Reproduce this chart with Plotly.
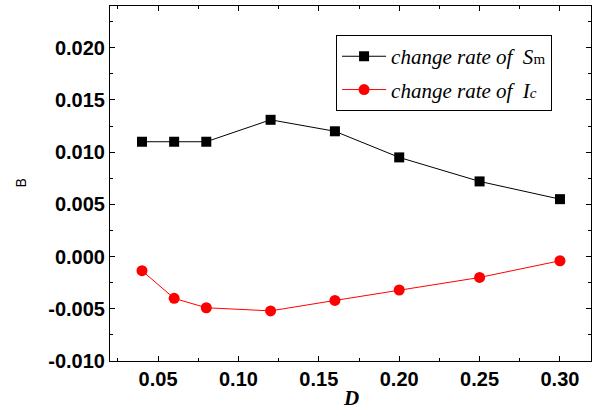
import plotly.graph_objects as go

D = [0.04, 0.06, 0.08, 0.12, 0.16, 0.20, 0.25, 0.30]
rate_Sm = [0.0110, 0.0110, 0.0110, 0.0131, 0.0120, 0.0095, 0.0072, 0.0055]
rate_Ic = [-0.00135, -0.0040, -0.0049, -0.0052, -0.0042, -0.0032, -0.0020, -0.0004]
x_ticks = [0.05, 0.10, 0.15, 0.20, 0.25, 0.30]
x_tick_labels = ["0.05", "0.10", "0.15", "0.20", "0.25", "0.30"]
y_ticks = [-0.010, -0.005, 0.000, 0.005, 0.010, 0.015, 0.020]
y_tick_labels = ["-0.010", "-0.005", "0.000", "0.005", "0.010", "0.015", "0.020"]

fig = go.Figure()
fig.add_trace(go.Scatter(
    x=D, y=rate_Sm, mode="lines+markers",
    name="<i>change rate of  S</i><span style='font-size:15px'>m</span>",
    line=dict(color="black", width=1),
    marker=dict(symbol="square", size=10, color="black"),
    legendgroup="a",
))
fig.add_trace(go.Scatter(
    x=D, y=rate_Ic, mode="lines+markers",
    name="<i>change rate of  I</i><span style='font-size:15px'><i>c</i></span>",
    line=dict(color="red", width=1),
    marker=dict(symbol="circle", size=11, color="red"),
    legendgroup="b",
))

axis_common = dict(
    showline=True, linecolor="black", linewidth=1, mirror="allticks",
    ticks="inside", ticklen=5, tickwidth=1, tickcolor="black",
    showgrid=False, zeroline=False, automargin=False,
    tickfont=dict(family="Liberation Sans, Arial", size=20, color="black", weight="bold"),
)

fig.update_xaxes(
    range=[0.0201, 0.3193], tickvals=x_ticks, ticktext=x_tick_labels,
    minor=dict(ticks="inside", ticklen=3, tickcolor="black", dtick=0.025, tick0=0.025),
    **axis_common,
)
fig.update_yaxes(
    range=[-0.010, 0.0240], tickvals=y_ticks, ticktext=y_tick_labels,
    minor=dict(ticks="inside", ticklen=3, tickcolor="black", dtick=0.0025, tick0=0.0025),
    **axis_common,
)

fig.add_annotation(
    text="<b><i>D</i></b>", xref="paper", yref="paper", x=0.5, y=-0.105,
    xanchor="center", yanchor="middle", showarrow=False,
    font=dict(family="Liberation Serif, Times New Roman", size=21, color="black"),
)
fig.add_annotation(
    text="B", xref="paper", yref="paper", x=-0.187, y=0.5,
    xanchor="center", yanchor="middle", showarrow=False, textangle=-90,
    font=dict(family="Liberation Sans, Arial", size=14, color="black"),
)

fig.update_layout(
    width=596, height=414,
    margin=dict(l=110, r=5, t=6, b=53),
    paper_bgcolor="white", plot_bgcolor="white",
    showlegend=True,
    legend=dict(
        x=0.47, y=0.918, xanchor="left", yanchor="top",
        bordercolor="black", borderwidth=1, bgcolor="white",
        font=dict(family="Liberation Serif, Times New Roman", size=21, color="black"),
        itemwidth=44, tracegroupgap=3,
    ),
)

fig.write_html("out.html", config={"displayModeBar": False},
               post_script="document.body.style.margin='0';")
